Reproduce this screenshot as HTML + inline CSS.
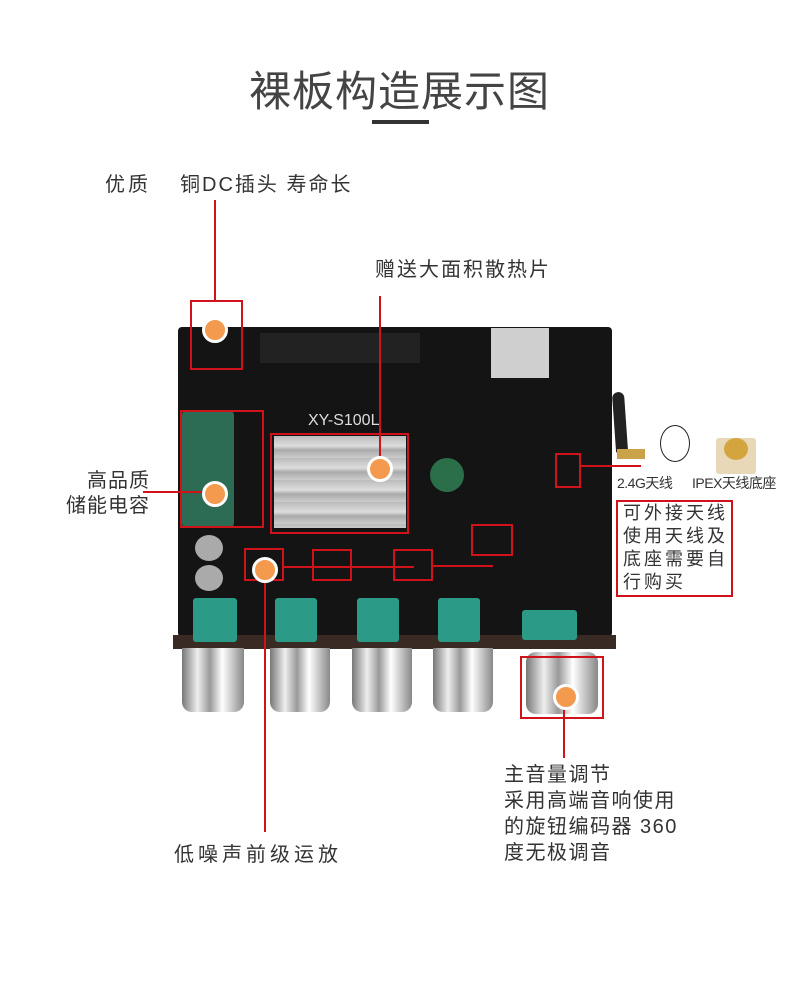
<!DOCTYPE html>
<html><head><meta charset="utf-8"><style>
body{margin:0;width:800px;height:1000px;background:#fff;position:relative;overflow:hidden;font-family:"Liberation Sans","Noto Sans CJK SC",sans-serif;color:#333}
.a{position:absolute}
.t{position:absolute;font-size:20px;color:#333;white-space:nowrap}
.r{position:absolute;background:#d0121b}
.box{position:absolute;border:2px solid #d0121b;box-sizing:border-box}
.dot{position:absolute;width:20px;height:20px;border-radius:50%;background:#f49a4f;border:3px solid #fff;box-sizing:content-box;margin:-13px 0 0 -13px}
.knob{position:absolute;top:648px;height:64px;border-radius:0 0 10px 10px;background:linear-gradient(90deg,#777,#eee 25%,#999 45%,#fff 65%,#888)}
.pot{position:absolute;top:598px;height:44px;background:#2b9a86;border-radius:3px}
</style></head><body>
<div class="t" style="left:249px;top:58px;font-size:42px;color:#444;letter-spacing:1px">裸板构造展示图</div>
<div class="a" style="left:372px;top:120px;width:57px;height:4px;background:#333"></div>

<div class="t" style="left:105px;top:168px;letter-spacing:3px">优质</div>
<div class="t" style="left:180px;top:168px;letter-spacing:2px">铜DC插头 寿命长</div>
<div class="t" style="left:375px;top:253px;letter-spacing:2px">赠送大面积散热片</div>
<div class="t" style="left:66px;top:469px;line-height:25px;text-align:right;letter-spacing:1px">高品质<br>储能电容</div>

<!-- board -->
<div class="a" style="left:178px;top:327px;width:434px;height:310px;background:#141414;border-radius:4px"></div>
<div class="a" style="left:173px;top:635px;width:443px;height:14px;background:#3a2a24"></div>
<div class="a" style="left:260px;top:333px;width:160px;height:30px;background:#222"></div>
<div class="a" style="left:182px;top:410px;width:52px;height:118px;background:#2c6b54;border-radius:5px"></div>
<div class="a" style="left:274px;top:436px;width:132px;height:92px;background:repeating-linear-gradient(180deg,#bbb 0,#ddd 10px,#aaa 14px,#ccc 22px)"></div>
<div class="a" style="left:491px;top:328px;width:58px;height:50px;background:#cfcfcf"></div>
<div class="a" style="left:430px;top:458px;width:34px;height:34px;border-radius:50%;background:#2a6f4a"></div>
<div class="a" style="left:195px;top:535px;width:28px;height:26px;border-radius:50%;background:#aaa"></div>
<div class="a" style="left:195px;top:565px;width:28px;height:26px;border-radius:50%;background:#aaa"></div>
<div class="a" style="left:308px;top:412px;color:#ddd;font-size:16px">XY-S100L</div>
<div class="pot" style="left:193px;width:44px"></div>
<div class="pot" style="left:275px;width:42px"></div>
<div class="pot" style="left:357px;width:42px"></div>
<div class="pot" style="left:438px;width:42px"></div>
<div class="pot" style="left:522px;top:610px;width:55px;height:30px"></div>
<div class="knob" style="left:182px;width:62px"></div>
<div class="knob" style="left:270px;width:60px"></div>
<div class="knob" style="left:352px;width:60px"></div>
<div class="knob" style="left:433px;width:60px"></div>
<div class="knob" style="left:526px;top:652px;width:72px;height:62px;border-radius:10px"></div>

<!-- red boxes -->
<div class="box" style="left:190px;top:300px;width:53px;height:70px"></div>
<div class="box" style="left:180px;top:410px;width:84px;height:118px"></div>
<div class="box" style="left:270px;top:433px;width:139px;height:101px"></div>
<div class="box" style="left:244px;top:548px;width:40px;height:33px"></div>
<div class="box" style="left:312px;top:549px;width:40px;height:32px"></div>
<div class="box" style="left:393px;top:549px;width:40px;height:32px"></div>
<div class="box" style="left:471px;top:524px;width:42px;height:32px"></div>
<div class="box" style="left:555px;top:453px;width:26px;height:35px"></div>
<div class="box" style="left:520px;top:656px;width:84px;height:63px"></div>

<!-- lines -->
<div class="r" style="left:214px;top:200px;width:2px;height:100px"></div>
<div class="r" style="left:379px;top:296px;width:2px;height:172px"></div>
<div class="r" style="left:143px;top:491px;width:68px;height:2px"></div>
<div class="r" style="left:264px;top:570px;width:2px;height:262px"></div>
<div class="r" style="left:563px;top:702px;width:2px;height:56px"></div>
<div class="r" style="left:284px;top:566px;width:130px;height:2px"></div>
<div class="r" style="left:433px;top:565px;width:60px;height:2px"></div>
<div class="r" style="left:581px;top:465px;width:60px;height:2px"></div>

<div class="dot" style="left:215px;top:330px"></div>
<div class="dot" style="left:215px;top:494px"></div>
<div class="dot" style="left:380px;top:469px"></div>
<div class="dot" style="left:265px;top:570px"></div>
<div class="dot" style="left:566px;top:697px"></div>

<!-- antenna -->
<div class="a" style="left:614px;top:392px;width:12px;height:60px;background:#222;border-radius:6px 6px 0 0;transform:rotate(-4deg)"></div>
<div class="a" style="left:617px;top:449px;width:28px;height:10px;background:#c9a24a"></div>
<div class="a" style="left:660px;top:425px;width:28px;height:35px;border:1px solid #222;border-radius:50%"></div>
<div class="a" style="left:716px;top:438px;width:40px;height:36px;background:#e8d8b8;border-radius:3px"></div>
<div class="a" style="left:724px;top:438px;width:24px;height:22px;background:#d4a53e;border-radius:50%"></div>
<div class="t" style="left:617px;top:473px;font-size:14px;letter-spacing:-0.5px">2.4G天线</div>
<div class="t" style="left:692px;top:473px;font-size:14px;letter-spacing:-0.5px">IPEX天线底座</div>
<div class="box" style="left:616px;top:500px;width:117px;height:97px"></div>
<div class="t" style="left:623px;top:502px;font-size:18px;line-height:23px;letter-spacing:3px">可外接天线<br>使用天线及<br>底座需要自<br>行购买</div>

<div class="t" style="left:174px;top:838px;letter-spacing:4px">低噪声前级运放</div>
<div class="t" style="left:504px;top:762px;line-height:26px;letter-spacing:1.5px">主音量调节<br>采用高端音响使用<br>的旋钮编码器 360<br>度无极调音</div>
</body></html>
